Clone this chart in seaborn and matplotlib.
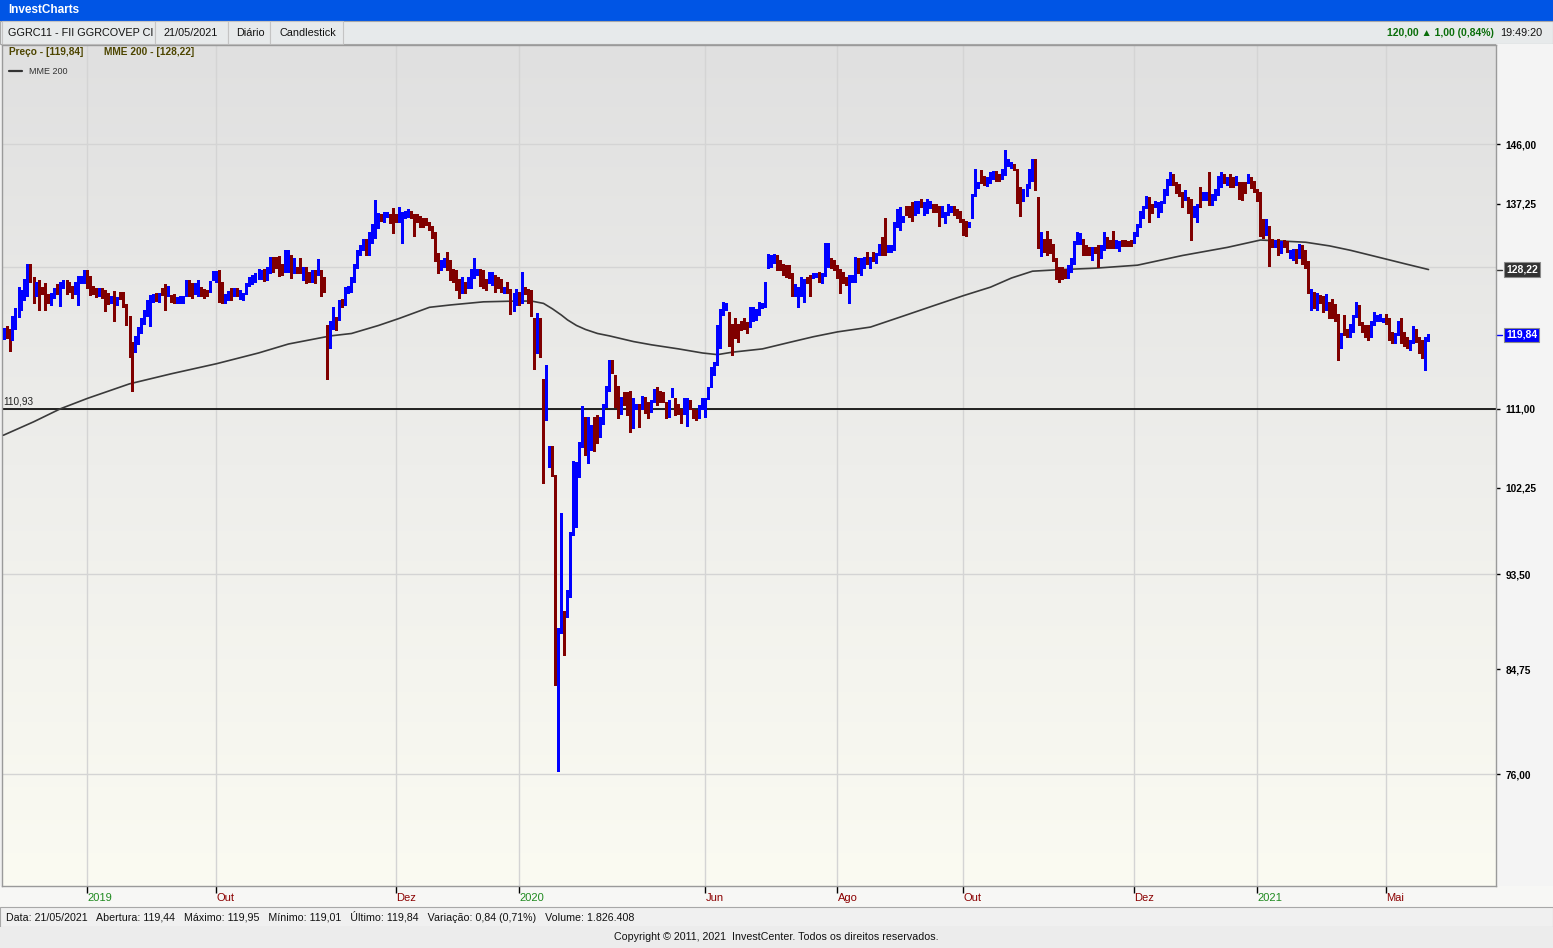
import matplotlib
matplotlib.use('Agg')
import matplotlib.pyplot as plt
import matplotlib.transforms as mtransforms
from matplotlib.patches import Rectangle
from matplotlib.lines import Line2D
from matplotlib.colors import LinearSegmentedColormap
from matplotlib.ticker import FixedLocator, NullLocator
import seaborn as sns
import numpy as np
import pandas as pd

sns.set_style('white')
plt.rcParams['font.family'] = ['Liberation Sans', 'DejaVu Sans']

W, H = 1553, 948

# Candles GGRC11 (diario), um por pregao
opens = [
    119.6, 120.5, 120.4, 119.4, 121.0, 122.5, 124.2, 124.6, 125.0, 128.6,
    127.0, 125.0, 126.6, 125.6, 126.2, 124.9, 124.2, 124.8, 126.0, 124.3,
    126.0, 126.6, 126.4, 125.9, 125.2, 125.0, 126.6, 126.6, 128.0, 127.0,
    125.9, 125.6, 124.9, 125.6, 125.3, 124.9, 124.0, 125.2, 123.8, 125.0,
    125.0, 123.5, 122.0, 118.6, 118.2, 119.0, 120.4, 121.5, 122.5, 123.2,
    124.4, 124.8, 124.2, 125.6, 126.0, 125.0, 124.6, 124.8, 124.0, 124.1,
    124.0, 125.0, 126.6, 126.2, 125.2, 125.0, 125.6, 125.4, 125.3, 125.6,
    127.0, 127.0, 127.8, 126.4, 124.2, 124.6, 125.6, 124.9, 125.6, 124.6,
    124.4, 125.2, 126.2, 126.5, 126.8, 127.2, 127.2, 128.1, 127.0, 127.9,
    129.7, 129.7, 129.5, 128.8, 128.1, 128.1, 130.0, 127.9, 128.4, 128.6,
    127.0, 128.4, 127.7, 126.8, 127.9, 127.7, 127.9, 127.0, 120.8, 118.4,
    120.8, 121.9, 121.9, 124.2, 123.8, 125.3, 125.5, 126.8, 128.6, 130.4,
    131.1, 132.2, 130.4, 132.0, 132.7, 134.0, 135.6, 134.9, 135.6, 135.6,
    136.3, 135.6, 134.9, 135.4, 135.4, 135.6, 136.1, 135.6, 135.6, 135.4,
    135.1, 135.1, 134.5, 134.0, 133.1, 130.0, 128.4, 128.8, 130.4, 129.3,
    128.1, 128.0, 126.8, 125.3, 126.4, 126.0, 126.0, 127.3, 127.7, 128.1,
    127.9, 126.8, 126.6, 126.4, 127.3, 127.0, 126.8, 125.3, 126.4, 125.5,
    123.0, 123.8, 125.1, 124.0, 125.7, 125.5, 125.3, 121.7, 118.5, 121.7,
    114.3, 110.2, 105.2, 106.6, 103.4, 85.6, 88.3, 89.8, 89.7, 91.5,
    97.5, 103.2, 103.6, 106.9, 108.9, 108.1, 108.0, 109.0, 110.1, 108.0,
    109.5, 111.4, 113.3, 116.3, 114.7, 113.5, 110.6, 112.7, 112.7, 112.8,
    109.0, 111.2, 111.4, 111.2, 112.2, 111.6, 110.8, 112.0, 113.3, 112.8,
    112.7, 111.6, 110.3, 112.5, 112.0, 111.4, 110.8, 110.6, 111.8, 111.8,
    110.8, 110.6, 110.1, 111.2, 110.3, 112.3, 113.7, 115.2, 116.4, 118.4,
    122.5, 123.2, 122.5, 121.0, 121.8, 121.0, 121.4, 121.8, 121.2, 121.0,
    121.7, 121.9, 122.5, 123.4, 123.6, 128.6, 128.8, 129.3, 130.0, 129.3,
    128.8, 128.6, 128.6, 127.6, 124.9, 124.7, 124.9, 124.2, 127.0, 127.3,
    127.3, 127.4, 127.7, 126.6, 127.5, 129.3, 129.5, 129.3, 128.6, 128.1,
    127.7, 127.0, 126.8, 126.8, 126.8, 129.5, 127.7, 128.6, 130.4, 128.6,
    130.4, 129.3, 130.4, 132.4, 132.0, 130.8, 130.8, 131.1, 134.2, 135.1,
    134.9, 136.8, 136.8, 136.8, 135.9, 136.1, 137.8, 135.9, 136.1, 136.8,
    137.0, 137.0, 136.8, 135.6, 134.7, 135.9, 136.3, 136.8, 136.3, 136.1,
    134.9, 134.7, 134.2, 135.4, 138.5, 139.7, 142.0, 141.1, 140.0, 140.4,
    141.1, 141.8, 141.4, 141.1, 141.6, 142.9, 142.6, 142.9, 142.1, 139.4,
    137.8, 138.5, 139.7, 140.7, 143.6, 138.0, 130.2, 132.2, 133.3, 132.2,
    131.5, 129.5, 128.4, 128.4, 128.1, 127.3, 128.1, 129.1, 131.8, 131.8,
    132.2, 131.3, 131.1, 129.7, 131.1, 131.3, 130.0, 131.1, 132.4, 132.0,
    133.3, 131.3, 130.9, 132.0, 132.0, 131.9, 132.0, 132.0, 132.9, 134.2,
    135.4, 136.8, 138.0, 137.0, 137.0, 135.6, 136.3, 137.5, 138.7, 140.2,
    141.4, 140.2, 139.9, 138.7, 138.0, 138.0, 137.8, 135.6, 136.1, 139.4,
    138.0, 138.0, 138.7, 137.3, 138.0, 138.7, 139.9, 141.4, 140.2, 141.4,
    140.9, 140.2, 140.2, 140.2, 140.2, 140.4, 140.9, 140.4, 139.2, 138.7,
    134.9, 133.1, 134.0, 132.2, 131.4, 132.2, 130.6, 132.0, 131.8, 130.0,
    129.7, 130.8, 130.0, 131.3, 130.6, 129.2, 123.2, 125.1, 123.2, 124.7,
    124.5, 123.2, 123.8, 124.2, 123.5, 122.3, 118.4, 120.4, 120.4, 119.8,
    120.4, 122.3, 123.4, 121.2, 120.8, 120.8, 119.8, 121.2, 121.7, 121.7,
    121.6, 122.3, 121.7, 120.0, 119.0, 120.0, 121.7, 120.0, 119.4, 118.2,
    119.0, 120.4, 119.4, 119.0, 117.8, 119.44,
]

closes = [
    120.5, 119.8, 119.3, 121.9, 122.9, 125.6, 125.0, 126.8, 128.6, 127.0,
    125.4, 126.4, 125.6, 125.3, 124.2, 124.2, 124.9, 125.6, 125.2, 126.4,
    126.7, 125.3, 125.6, 124.9, 126.4, 127.0, 127.2, 128.0, 126.5, 125.2,
    125.3, 124.9, 125.6, 124.8, 123.2, 124.0, 124.6, 122.4, 124.4, 124.6,
    123.6, 121.3, 117.6, 117.2, 119.4, 120.6, 121.8, 122.8, 124.0, 124.6,
    124.8, 124.3, 124.9, 125.2, 124.4, 125.8, 124.2, 124.1, 124.4, 124.6,
    124.5, 126.6, 125.0, 124.8, 126.3, 126.6, 125.0, 124.8, 125.0, 126.5,
    127.8, 127.8, 125.0, 124.0, 124.8, 125.2, 124.6, 125.6, 125.0, 125.3,
    124.9, 126.3, 127.0, 127.3, 127.5, 128.0, 128.0, 126.9, 128.4, 129.7,
    128.1, 128.6, 128.0, 127.7, 130.4, 130.6, 127.3, 129.5, 127.9, 127.9,
    128.4, 126.6, 126.8, 127.9, 126.6, 129.4, 125.1, 125.5, 118.4, 121.4,
    122.1, 120.6, 124.0, 123.6, 125.7, 125.9, 127.0, 128.8, 130.6, 131.3,
    132.2, 130.4, 133.1, 134.2, 134.0, 135.6, 135.1, 135.9, 135.9, 134.7,
    135.6, 134.9, 136.6, 135.9, 136.1, 136.3, 135.4, 134.5, 134.9, 134.2,
    134.2, 134.5, 133.8, 132.7, 129.5, 128.6, 129.3, 129.5, 128.4, 127.5,
    126.8, 125.7, 124.9, 127.0, 125.3, 127.0, 128.1, 128.4, 128.1, 126.2,
    126.0, 125.7, 127.7, 127.7, 125.5, 126.0, 125.5, 125.7, 125.3, 122.7,
    125.0, 125.5, 123.8, 125.7, 125.3, 124.0, 122.5, 118.1, 120.8, 117.4,
    109.7, 111.4, 105.4, 103.8, 88.4, 86.0, 91.5, 88.8, 90.5, 96.3,
    100.2, 103.4, 106.9, 108.9, 107.4, 108.3, 108.9, 106.7, 107.6, 109.0,
    111.4, 113.5, 116.3, 115.4, 111.4, 110.1, 112.2, 111.6, 110.5, 108.6,
    112.0, 111.4, 110.9, 112.3, 110.7, 110.1, 111.8, 113.1, 111.6, 112.0,
    112.0, 110.1, 111.8, 113.2, 110.5, 110.6, 109.6, 112.0, 112.0, 111.2,
    110.1, 109.9, 111.2, 112.0, 112.0, 113.3, 115.7, 116.3, 118.4, 122.9,
    123.8, 123.6, 121.0, 119.2, 119.6, 119.2, 120.6, 120.8, 120.2, 123.2,
    123.1, 122.9, 123.8, 123.6, 126.4, 130.1, 130.0, 130.1, 128.4, 128.4,
    128.0, 127.4, 127.3, 124.9, 126.1, 125.7, 127.0, 126.8, 126.6, 124.9,
    127.5, 127.5, 126.8, 127.5, 130.8, 130.6, 128.6, 128.4, 127.3, 126.6,
    126.6, 126.4, 127.3, 127.3, 129.7, 127.9, 129.5, 129.7, 129.1, 129.7,
    129.5, 130.2, 131.4, 130.4, 130.4, 131.3, 131.3, 134.5, 136.3, 135.9,
    135.4, 135.9, 135.6, 136.1, 137.5, 137.5, 137.0, 137.3, 137.8, 137.5,
    136.3, 136.3, 136.0, 136.8, 135.9, 137.0, 136.8, 135.9, 135.4, 134.9,
    133.1, 132.9, 134.5, 138.5, 142.1, 140.2, 140.4, 140.2, 140.9, 141.6,
    141.8, 140.7, 140.7, 142.1, 143.2, 143.6, 143.1, 142.4, 137.5, 137.0,
    139.2, 139.9, 142.1, 143.6, 139.4, 131.3, 133.1, 130.8, 130.4, 130.6,
    129.5, 127.5, 126.8, 127.2, 127.3, 128.6, 129.5, 131.8, 133.1, 132.9,
    130.4, 130.4, 130.4, 131.1, 130.6, 130.6, 131.3, 133.1, 131.3, 131.3,
    131.3, 132.0, 131.8, 131.6, 131.6, 131.6, 131.6, 133.1, 134.2, 136.1,
    136.8, 138.2, 136.3, 136.1, 137.5, 137.3, 137.5, 139.2, 140.7, 141.6,
    140.2, 139.0, 138.5, 137.0, 139.0, 136.1, 136.1, 136.8, 137.0, 137.0,
    138.7, 138.7, 137.3, 138.5, 139.2, 141.1, 141.6, 140.4, 140.9, 139.9,
    139.9, 141.1, 138.2, 138.0, 139.0, 141.4, 139.7, 139.2, 137.8, 132.9,
    132.7, 134.9, 132.4, 131.5, 132.0, 130.4, 131.8, 131.5, 130.8, 130.7,
    130.8, 129.3, 131.5, 129.1, 128.6, 125.4, 125.5, 123.4, 125.0, 124.0,
    122.9, 124.8, 122.1, 122.1, 121.7, 119.6, 119.8, 120.0, 119.8, 121.0,
    122.1, 123.8, 121.2, 120.4, 119.8, 119.4, 121.4, 122.5, 122.1, 122.3,
    121.8, 121.4, 119.4, 119.0, 119.8, 121.4, 119.0, 118.6, 118.4, 119.0,
    120.7, 119.2, 118.2, 117.6, 118.6, 119.84,
]

highs = [
    120.7, 120.9, 120.6, 122.2, 123.2, 125.9, 125.5, 127.0, 129.0, 129.0,
    127.2, 126.6, 126.9, 125.9, 126.5, 125.0, 125.1, 125.8, 126.3, 126.6,
    126.9, 126.8, 126.6, 126.1, 126.6, 127.3, 127.4, 128.2, 128.2, 127.3,
    126.1, 125.8, 125.8, 125.8, 125.5, 125.1, 124.8, 125.4, 124.6, 125.3,
    125.3, 123.7, 122.2, 119.0, 119.7, 120.8, 122.0, 123.0, 124.3, 124.9,
    125.0, 125.1, 125.2, 125.8, 126.3, 126.0, 124.9, 125.0, 124.6, 124.8,
    124.7, 126.8, 126.9, 126.4, 126.5, 126.8, 125.9, 125.6, 125.5, 126.7,
    128.0, 128.0, 128.1, 126.6, 125.0, 125.4, 125.8, 125.8, 125.8, 125.5,
    125.1, 126.5, 127.2, 127.5, 127.8, 128.3, 128.2, 128.3, 128.6, 129.9,
    129.9, 129.9, 130.0, 129.0, 130.8, 130.8, 130.2, 129.7, 128.6, 129.7,
    128.6, 128.6, 127.9, 128.1, 128.1, 129.6, 128.1, 127.2, 121.0, 121.6,
    123.4, 122.1, 124.2, 124.4, 125.9, 126.1, 127.2, 129.0, 130.8, 131.5,
    132.4, 132.4, 133.3, 134.4, 137.8, 135.9, 135.8, 136.1, 136.1, 135.8,
    136.6, 135.8, 136.8, 136.1, 136.3, 136.5, 136.3, 135.8, 135.8, 135.6,
    135.3, 135.3, 134.7, 134.2, 133.3, 130.4, 129.5, 129.7, 130.6, 129.5,
    128.3, 128.2, 127.0, 127.2, 126.6, 127.2, 128.3, 129.7, 128.3, 128.3,
    128.1, 127.0, 127.9, 127.9, 127.5, 127.2, 127.0, 125.9, 126.6, 125.7,
    125.2, 125.7, 125.3, 127.9, 125.9, 125.7, 125.5, 122.0, 122.6, 122.0,
    114.5, 116.1, 106.8, 106.8, 103.6, 88.4, 99.6, 90.0, 92.0, 97.7,
    105.2, 105.0, 107.2, 111.3, 110.1, 110.0, 109.2, 110.1, 110.3, 110.1,
    111.6, 113.7, 116.8, 116.7, 115.0, 113.7, 112.4, 112.9, 112.9, 113.0,
    112.2, 111.6, 111.6, 112.5, 112.4, 111.8, 112.0, 113.3, 113.5, 113.0,
    112.9, 111.8, 112.0, 113.4, 112.2, 111.6, 111.0, 112.2, 112.2, 112.0,
    111.0, 110.8, 111.4, 112.2, 112.2, 113.5, 115.9, 116.5, 121.0, 123.1,
    124.0, 123.8, 122.7, 121.2, 122.0, 121.2, 121.6, 122.0, 121.4, 123.4,
    123.3, 123.1, 124.0, 123.8, 126.6, 130.3, 130.2, 130.3, 130.2, 129.5,
    129.0, 128.8, 128.8, 127.8, 126.3, 125.9, 127.2, 127.0, 127.2, 127.5,
    127.7, 127.7, 127.9, 127.7, 131.8, 131.8, 129.7, 129.5, 128.8, 128.3,
    127.9, 127.2, 127.5, 127.5, 129.9, 129.7, 129.7, 129.9, 130.6, 129.9,
    130.6, 130.4, 131.6, 132.6, 135.2, 131.5, 131.5, 134.7, 136.5, 136.8,
    135.6, 137.0, 137.0, 137.5, 137.7, 137.7, 138.0, 137.5, 138.0, 137.7,
    137.2, 137.2, 137.0, 137.0, 136.1, 137.2, 137.0, 137.0, 136.5, 136.3,
    135.1, 134.9, 134.7, 138.7, 142.3, 140.4, 142.2, 141.3, 141.1, 141.8,
    142.0, 142.0, 141.6, 142.3, 145.1, 143.8, 143.3, 143.1, 142.3, 139.6,
    139.4, 140.1, 142.3, 143.8, 143.8, 138.2, 133.3, 132.4, 133.5, 132.4,
    131.7, 129.7, 128.6, 128.6, 128.3, 128.8, 129.7, 132.0, 133.3, 133.1,
    132.4, 131.5, 131.3, 131.3, 131.3, 131.5, 131.5, 133.3, 132.6, 132.2,
    133.5, 132.2, 132.0, 132.2, 132.2, 132.1, 132.2, 133.3, 134.4, 136.3,
    137.0, 138.4, 138.2, 137.2, 137.7, 137.5, 137.7, 139.4, 140.9, 141.8,
    141.6, 140.4, 140.1, 138.9, 139.2, 138.2, 138.0, 137.0, 137.2, 139.6,
    138.9, 138.9, 141.9, 138.7, 139.4, 141.3, 141.8, 141.6, 141.1, 141.6,
    141.1, 141.3, 140.4, 140.4, 140.4, 141.6, 141.1, 140.6, 139.4, 138.9,
    135.1, 135.1, 134.2, 132.4, 132.2, 132.4, 132.0, 132.2, 132.0, 130.9,
    131.0, 131.0, 131.7, 131.5, 130.8, 129.4, 125.7, 125.3, 125.2, 124.9,
    124.7, 125.0, 124.0, 124.4, 123.7, 122.5, 120.0, 122.3, 120.6, 121.2,
    122.3, 124.0, 123.6, 121.4, 121.0, 121.0, 121.6, 122.7, 122.3, 122.5,
    122.0, 122.5, 121.9, 120.2, 120.0, 121.6, 121.9, 120.2, 119.6, 119.2,
    120.9, 120.6, 119.6, 119.2, 119.6, 119.95,
]

lows = [
    119.3, 119.5, 117.9, 119.2, 120.6, 122.1, 123.0, 124.3, 124.8, 126.6,
    123.8, 124.8, 122.9, 125.0, 122.9, 123.8, 123.6, 124.5, 125.0, 123.5,
    125.8, 125.0, 125.3, 124.5, 125.0, 123.6, 126.4, 126.4, 125.8, 124.9,
    125.0, 124.6, 124.7, 124.5, 122.8, 123.7, 123.8, 121.6, 123.6, 124.4,
    123.3, 121.0, 117.1, 113.0, 117.7, 118.7, 120.0, 121.2, 122.2, 120.9,
    124.0, 124.1, 124.0, 124.9, 122.9, 124.8, 124.0, 123.9, 123.9, 123.9,
    123.9, 124.8, 124.8, 124.5, 125.0, 124.8, 124.8, 124.5, 124.8, 125.3,
    126.8, 126.6, 124.0, 123.8, 123.9, 124.3, 124.3, 124.7, 124.8, 124.4,
    124.2, 125.0, 126.0, 126.3, 126.6, 127.0, 127.0, 126.7, 126.8, 127.7,
    127.9, 128.4, 127.3, 127.5, 127.9, 127.9, 127.1, 127.7, 127.7, 127.7,
    126.8, 126.4, 126.6, 126.6, 126.4, 127.5, 124.7, 125.3, 114.5, 118.2,
    120.6, 120.4, 121.7, 123.4, 123.6, 125.1, 125.3, 126.6, 128.4, 130.2,
    130.9, 130.2, 130.2, 131.8, 132.5, 133.8, 134.9, 134.7, 135.4, 134.5,
    133.1, 134.7, 134.7, 131.8, 135.2, 135.4, 135.2, 132.7, 134.7, 134.0,
    134.0, 134.3, 133.6, 132.5, 129.3, 127.7, 128.2, 128.6, 128.2, 126.8,
    126.6, 125.5, 124.5, 125.1, 125.1, 125.8, 125.8, 127.1, 127.5, 126.0,
    125.8, 125.5, 126.4, 126.2, 125.3, 125.8, 125.3, 125.1, 125.1, 122.5,
    122.8, 123.6, 123.6, 123.8, 125.0, 123.8, 122.2, 115.7, 117.6, 117.1,
    102.8, 109.7, 104.5, 103.5, 83.4, 76.3, 88.0, 86.0, 89.5, 91.3,
    97.4, 98.2, 103.4, 106.7, 105.8, 104.9, 106.3, 106.2, 107.1, 107.8,
    109.3, 111.2, 113.1, 115.2, 111.2, 109.9, 110.4, 111.4, 110.3, 108.4,
    108.8, 111.0, 108.9, 111.0, 110.5, 109.9, 110.6, 111.8, 111.4, 111.8,
    111.8, 109.9, 110.1, 112.3, 110.3, 110.4, 109.4, 110.4, 109.0, 111.0,
    109.9, 109.7, 109.9, 111.0, 110.1, 112.1, 113.5, 115.0, 116.2, 118.2,
    122.3, 123.0, 118.4, 117.4, 119.4, 119.0, 120.4, 120.6, 120.0, 120.8,
    121.5, 121.7, 122.3, 123.2, 123.4, 128.4, 128.6, 129.1, 128.2, 128.2,
    127.5, 127.2, 127.1, 124.7, 124.7, 123.4, 124.7, 124.0, 126.4, 124.7,
    127.1, 127.2, 126.6, 126.4, 127.3, 128.6, 128.4, 128.2, 127.1, 125.2,
    126.4, 126.2, 123.9, 126.6, 126.6, 127.7, 127.5, 128.4, 128.9, 128.4,
    129.3, 129.1, 130.2, 130.2, 130.2, 130.6, 130.6, 130.9, 134.0, 133.6,
    134.7, 135.7, 135.4, 134.9, 135.7, 135.9, 136.8, 135.7, 135.9, 136.6,
    136.1, 136.1, 134.2, 135.4, 134.5, 135.7, 136.1, 135.7, 135.2, 134.7,
    132.9, 132.7, 134.0, 135.2, 138.3, 139.5, 140.2, 140.0, 139.8, 140.2,
    140.9, 140.5, 140.5, 140.9, 141.4, 142.7, 142.4, 142.2, 137.3, 135.6,
    137.6, 138.3, 139.5, 140.5, 139.2, 131.1, 130.0, 130.6, 130.2, 130.4,
    129.3, 127.0, 126.6, 127.0, 127.1, 127.1, 127.9, 128.9, 131.6, 131.6,
    130.2, 130.2, 130.2, 129.5, 130.4, 128.6, 129.8, 130.9, 131.1, 131.1,
    131.1, 131.1, 130.7, 131.4, 131.4, 131.4, 131.4, 131.8, 132.7, 134.0,
    135.2, 136.6, 134.7, 135.9, 136.8, 135.4, 136.1, 137.3, 138.5, 140.0,
    140.0, 138.8, 138.3, 136.8, 137.8, 135.9, 132.2, 135.4, 134.7, 136.8,
    137.8, 137.8, 137.1, 137.1, 137.8, 138.5, 139.7, 140.2, 140.0, 139.7,
    139.7, 140.0, 138.0, 137.8, 138.8, 140.2, 139.5, 139.0, 137.6, 132.7,
    132.5, 132.9, 128.7, 131.3, 131.2, 130.2, 130.4, 131.3, 130.6, 129.8,
    129.5, 129.1, 129.8, 128.9, 128.4, 125.2, 123.0, 123.2, 123.0, 123.8,
    122.7, 123.0, 121.9, 121.9, 121.5, 116.7, 118.2, 119.8, 119.6, 119.6,
    120.2, 122.1, 121.0, 120.2, 119.6, 119.2, 119.6, 121.0, 121.5, 121.5,
    121.4, 121.2, 119.2, 118.8, 118.8, 119.8, 118.8, 118.4, 118.2, 118.0,
    118.8, 119.0, 117.6, 117.0, 115.5, 119.01,
]

# MME 200 (indice do candle, valor)
ema_idx = [0, 10, 19, 28, 42, 56, 71, 85, 95, 109, 116, 125, 132, 142, 149,
           160, 171, 176, 180, 183, 186, 188, 191, 194, 198, 202, 210, 216,
           225, 233, 238, 243, 253, 262, 270, 278, 289, 300, 310, 320, 329,
           336, 343, 352, 364, 378, 393, 408, 419, 424, 429, 434, 442, 449,
           455, 460, 467, 475]
ema_val = [108.0, 109.5, 111.0, 112.2, 113.9, 115.1, 116.3, 117.6, 118.7,
           119.7, 120.0, 121.0, 121.9, 123.3, 123.6, 124.0, 124.1, 124.1,
           123.8, 123.1, 122.3, 121.7, 121.0, 120.5, 120.0, 119.7, 119.0,
           118.6, 118.1, 117.6, 117.4, 117.7, 118.1, 118.9, 119.6, 120.2,
           120.8, 122.2, 123.5, 124.8, 125.9, 127.1, 128.0, 128.2, 128.4,
           128.8, 130.1, 131.2, 132.2, 132.1, 132.0, 131.9, 131.4, 130.8,
           130.2, 129.7, 129.0, 128.22]

month_pos = [28, 71, 131, 172, 234, 278, 320, 377, 418, 461]
month_lbl = ['2019', 'Out', 'Dez', '2020', 'Jun', 'Ago', 'Out', 'Dez', '2021', 'Mai']

y_ticks = [76.0, 84.75, 93.5, 102.25, 111.0, 137.25, 146.0]
grid_levels = [76.0, 93.5, 111.0, 128.5, 146.0]
support_level = 110.93
last_price = 119.84
last_ema = 128.22

o = np.array(opens)
c = np.array(closes)
hi = np.array(highs)
lo = np.array(lows)
idx = np.arange(len(c))

fig = plt.figure(figsize=(W / 100, H / 100), dpi=100, facecolor='#f0f0f0')


def box(x, y, w, h, fc, ec='none', lw=0):
    fig.add_artist(Rectangle((x / W, 1 - (y + h) / H), w / W, h / H,
                             transform=fig.transFigure, fc=fc, ec=ec, lw=lw,
                             zorder=-5))


def txt(x, y, s, **kw):
    kw.setdefault('va', 'center')
    fig.text(x / W, 1 - y / H, s, **kw)


narrow = ['Liberation Sans Narrow', 'Liberation Sans', 'DejaVu Sans']

# barra de titulo e barra de ferramentas
box(0, 0, W, 21, '#0055e5')
txt(8, 10, 'InvestCharts', color='white', fontweight='bold', fontsize=8.5)
box(0, 21, W, 23, '#e7eaeb', ec='#a8a8a8', lw=0.8)
for x0, x1 in [(2, 155), (155, 228), (228, 270), (270, 343)]:
    box(x0, 21, x1 - x0, 23, '#e7eaeb', ec='#c4c4c4', lw=0.8)
txt(8, 33, 'GGRC11 - FII GGRCOVEP CI', fontsize=7.8, color='#111111')
txt(163, 33, '21/05/2021', fontsize=7.8, color='#111111')
txt(236, 33, 'Diário', fontsize=7.8, color='#111111')
txt(279, 33, 'Candlestick', fontsize=7.8, color='#111111')
txt(1494, 33, '120,00 ▲ 1,00 (0,84%)', fontsize=7.5, fontweight='bold',
    color='#0a6e0a', ha='right')
txt(1542, 33, '19:49:20', fontsize=7.8, color='#111111', ha='right')

# painel direito e rodape
box(1496, 44, W - 1496, 842, '#f4f4f4')
box(0, 886, W, 21, '#f7f7f5')
box(0, 907, W, 20, '#f0f0f0', ec='#a8a8a8', lw=0.8)
box(0, 927, W, 21, '#ececec')

ax = fig.add_axes([2 / W, 1 - 886 / H, (1496 - 2) / W, (886 - 45) / H])
ax.set_yscale('log')

bg = LinearSegmentedColormap.from_list('bg', ['#e0e0e0', '#eeeeeb', '#fbfbf2'])
ax.imshow(np.linspace(0, 1, 256).reshape(-1, 1), cmap=bg, extent=[0, 1, 0, 1],
          transform=ax.transAxes, aspect='auto', zorder=0, origin='upper')

for lvl in grid_levels:
    ax.axhline(lvl, color='#d4d4d4', lw=1, zorder=1)
for pos in month_pos:
    ax.axvline(pos, color='#d4d4d4', lw=1, zorder=1)
ax.axhline(support_level, color='black', lw=1.2, zorder=2)

df_ema = pd.DataFrame({'idx': ema_idx, 'mme': ema_val})
sns.lineplot(data=df_ema, x='idx', y='mme', ax=ax, color='#3a3a3a', lw=1.2,
             zorder=3, legend=False)

cols = np.where(c >= o, '#0000ff', '#800000')
ax.vlines(idx, lo, hi, colors=cols, lw=0.75, zorder=4, antialiased=False)
body = np.maximum(np.abs(c - o), 0.15)
ax.bar(idx, body, bottom=np.minimum(o, c), width=0.62, color=cols, lw=0,
       zorder=5, antialiased=False)

ax.set_xlim(-0.5, 497.5)
ax.set_ylim(67.7, 161.8)
ax.set_xlabel('')
ax.set_ylabel('')

ax.yaxis.tick_right()
ax.yaxis.set_major_locator(FixedLocator(y_ticks))
ax.yaxis.set_minor_locator(NullLocator())
ax.set_yticklabels([f'{v:.2f}'.replace('.', ',') for v in y_ticks])
ax.tick_params(axis='y', which='major', right=True, length=3, width=1, pad=4,
               labelsize=7.3, colors='black')
for lbl in ax.get_yticklabels():
    lbl.set_fontweight('bold')

ax.set_xticks(month_pos)
ax.set_xticklabels(month_lbl)
ax.tick_params(axis='x', which='major', bottom=True, length=5, width=1, pad=0,
               labelsize=8, colors='black')
for lbl, s in zip(ax.get_xticklabels(), month_lbl):
    lbl.set_ha('left')
    lbl.set_family(narrow)
    lbl.set_color('#1f8a1f' if s.isdigit() else '#8b0000')

for sp in ax.spines.values():
    sp.set_color('#9a9a9a')
    sp.set_linewidth(1)

# caixas com ultimo valor
blend = mtransforms.blended_transform_factory(ax.transAxes, ax.transData)
for val, fc in [(last_ema, '#333333'), (last_price, '#0000ff')]:
    ax.plot([1.0, 1.004], [val, val], color=fc, lw=1, transform=blend, clip_on=False)
    ax.text(1.0068, val, f'{val:.2f}'.replace('.', ','), transform=blend,
            color='white', fontsize=7.5, fontweight='bold', ha='left', va='center',
            bbox=dict(boxstyle='square,pad=0.2', fc=fc, ec='#8a8a8a', lw=0.8))

txt(3, 402, '110,93', fontsize=7.2, color='#222222')

# legenda
txt(9, 52, 'Preço - [119,84]', fontsize=7.3, fontweight='bold', color='#4d4500')
txt(104, 52, 'MME 200 - [128,22]', fontsize=7.3, fontweight='bold', color='#4d4500')
fig.add_artist(Line2D([9 / W, 22 / W], [1 - 71 / H] * 2, color='#333333', lw=1.6))
txt(29, 71, 'MME 200', fontsize=6.5, color='#333333')

txt(6, 917, 'Data: 21/05/2021   Abertura: 119,44   Máximo: 119,95   Mínimo: 119,01   '
    'Último: 119,84   Variação: 0,84 (0,71%)   Volume: 1.826.408',
    fontsize=7.7, family=narrow, color='#111111')
txt(776, 937, 'Copyright © 2011, 2021  InvestCenter. Todos os direitos reservados.',
    fontsize=7.7, family=narrow, color='#111111', ha='center')

fig.savefig('out.png', dpi=100, facecolor=fig.get_facecolor())
